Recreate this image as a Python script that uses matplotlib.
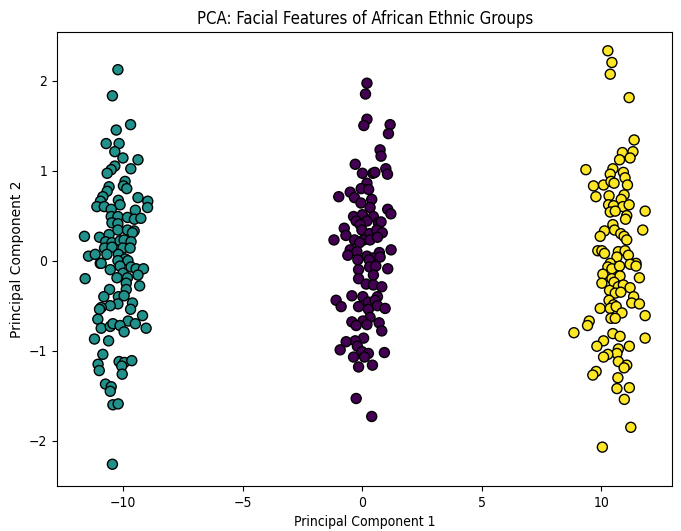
import numpy as np
import matplotlib
matplotlib.use("Agg")
import matplotlib.pyplot as plt

# Grupo 1 (teal, alrededor de x=-10)
g1_x = [-10.22, -10.45, -9.69, -10.29, -10.71, -10.17, -10.35, -10.01, -9.38, -10.35,
        -10.50, -10.67, -9.68, -9.92, -9.99, -9.85, -10.59, -10.67, -10.85, -10.95,
        -11.10, -10.79, -10.20, -10.13, -9.38, -8.97, -8.98, -10.50, -9.49, -10.50,
        -10.22, -9.82, -9.53, -9.26, -10.47, -10.22, -10.22, -9.82, -9.54, -11.62,
        -10.99, -10.59, -9.61, -10.73, -10.47, -10.13, -9.96, -9.67, -10.78, -10.47,
        -10.01, -9.71, -11.45, -11.17, -10.68, -10.20, -9.92, -10.96, -10.92, -10.22,
        -9.80, -10.54, -10.13, -10.01, -9.67, -9.46, -9.15, -9.38, -11.59, -10.26,
        -9.82, -9.87, -9.31, -10.57, -9.87, -10.81, -10.20, -9.96, -9.61, -10.22,
        -10.54, -10.92, -10.99, -9.69, -11.06, -9.19, -9.79, -9.49, -10.92, -10.54,
        -10.43, -10.13, -9.96, -9.04, -11.20, -10.61, -10.85, -11.05, -11.00, -10.17,
        -9.95, -9.64, -10.06, -10.04, -10.74, -10.50, -10.54, -10.43, -10.21, -10.45]
g1_y = [2.12, 1.83, 1.51, 1.45, 1.30, 1.30, 1.21, 1.14, 1.12, 1.05,
        1.01, 0.97, 1.02, 0.88, 0.83, 0.80, 0.82, 0.77, 0.71, 0.66,
        0.60, 0.60, 0.67, 0.62, 0.70, 0.66, 0.59, 0.57, 0.56, 0.49,
        0.49, 0.48, 0.46, 0.47, 0.42, 0.41, 0.34, 0.34, 0.33, 0.27,
        0.26, 0.29, 0.31, 0.21, 0.20, 0.22, 0.23, 0.21, 0.14, 0.15,
        0.14, 0.14, 0.05, 0.07, 0.07, 0.07, 0.02, -0.03, -0.03, 0.00,
        0.00, -0.10, -0.06, -0.14, -0.07, -0.09, -0.09, -0.16, -0.20, -0.19,
        -0.19, -0.25, -0.28, -0.32, -0.32, -0.40, -0.40, -0.39, -0.47, -0.48,
        -0.50, -0.52, -0.54, -0.54, -0.65, -0.61, -0.67, -0.70, -0.75, -0.73,
        -0.70, -0.72, -0.79, -0.75, -0.87, -0.89, -1.04, -1.15, -1.22, -1.12,
        -1.13, -1.11, -1.17, -1.26, -1.37, -1.40, -1.45, -1.60, -1.59, -2.26]

# Grupo 0 (morado, alrededor de x=0)
g0_x = [0.20, 0.14, 0.20, 0.07, 1.17, 1.10, 0.75, 0.79, -0.29, 0.99,
        1.06, 0.01, 0.45, 0.53, 0.20, -0.04, 0.27, -0.50, -0.98, -0.32,
        0.40, -0.05, 0.33, 1.07, 1.20, -0.36, 0.01, 0.47, -0.25, 0.20,
        0.68, -0.75, -0.08, 0.79, -0.68, -0.01, 0.31, 0.61, 0.84, -1.18,
        -0.32, 0.06, 0.33, 0.64, -0.11, 1.21, -0.50, -0.22, 0.72, -0.60,
        0.20, 0.47, -0.18, 0.29, 0.75, -0.15, 0.31, 0.57, 1.07, -0.15,
        0.47, 0.17, 0.47, 0.82, -0.43, 0.03, 0.64, -1.09, -0.88, -0.15,
        0.26, 0.54, 0.26, 0.64, 0.96, 0.33, 0.03, -0.43, -0.25, 0.20,
        0.71, 0.82, 0.06, -0.29, -0.67, -0.92, -0.20, -0.01, 0.26, 0.93,
        -0.36, 0.10, 0.43, -0.15, -0.25, 0.40]
g0_y = [1.97, 1.85, 1.57, 1.50, 1.51, 1.41, 1.23, 1.16, 1.07, 1.02,
        0.96, 0.97, 0.97, 0.98, 0.86, 0.80, 0.79, 0.76, 0.71, 0.70,
        0.68, 0.64, 0.59, 0.57, 0.52, 0.49, 0.51, 0.49, 0.44, 0.44,
        0.42, 0.36, 0.40, 0.43, 0.28, 0.34, 0.30, 0.34, 0.31, 0.23,
        0.23, 0.23, 0.23, 0.26, 0.20, 0.12, 0.12, 0.10, 0.09, 0.06,
        0.05, 0.03, 0.01, 0.01, 0.04, -0.10, -0.07, -0.06, -0.09, -0.20,
        -0.16, -0.26, -0.27, -0.29, -0.39, -0.40, -0.40, -0.44, -0.51, -0.51,
        -0.46, -0.44, -0.54, -0.50, -0.53, -0.63, -0.67, -0.68, -0.72, -0.71,
        -0.69, -0.78, -0.86, -0.89, -0.90, -0.99, -0.95, -1.01, -1.03, -1.02,
        -1.07, -1.07, -1.16, -1.18, -1.53, -1.73]

# Grupo 2 (amarillo, alrededor de x=10)
g2_x = [10.28, 10.45, 10.38, 11.17, 11.38, 10.89, 11.33, 10.77, 11.21, 9.36,
        10.49, 10.93, 10.38, 11.00, 9.68, 10.10, 10.41, 10.54, 11.10, 9.78,
        10.33, 10.96, 10.84, 10.31, 10.52, 10.91, 11.17, 11.84, 10.38, 10.59,
        11.07, 11.02, 10.49, 10.14, 10.56, 11.74, 9.96, 10.82, 10.96, 11.07,
        9.86, 10.03, 10.14, 10.72, 11.00, 10.66, 11.14, 10.38, 11.46, 10.28,
        10.45, 10.77, 11.21, 11.46, 10.07, 11.60, 10.45, 10.79, 10.03, 10.54,
        10.72, 10.93, 11.21, 10.35, 10.59, 10.82, 11.36, 10.33, 11.28, 11.60,
        10.52, 9.96, 10.38, 10.63, 10.87, 11.84, 10.41, 10.59, 9.50, 9.43,
        8.86, 10.49, 10.79, 11.84, 10.10, 9.82, 11.18, 10.72, 10.66, 10.28,
        10.10, 10.72, 11.07, 10.96, 9.79, 9.65, 10.70, 10.66, 11.18, 10.97,
        11.24, 10.05]
g2_y = [2.33, 2.20, 2.07, 1.81, 1.34, 1.20, 1.21, 1.12, 1.14, 1.01,
        1.02, 0.98, 0.96, 0.92, 0.83, 0.84, 0.88, 0.86, 0.84, 0.71,
        0.72, 0.73, 0.68, 0.62, 0.61, 0.60, 0.62, 0.55, 0.54, 0.55,
        0.50, 0.46, 0.40, 0.33, 0.34, 0.34, 0.27, 0.30, 0.27, 0.23,
        0.11, 0.11, 0.08, 0.10, 0.11, 0.04, 0.06, -0.03, -0.03, -0.07,
        -0.09, -0.06, -0.04, -0.06, -0.15, -0.19, -0.20, -0.17, -0.25, -0.24,
        -0.29, -0.27, -0.30, -0.33, -0.36, -0.35, -0.40, -0.44, -0.47, -0.48,
        -0.49, -0.53, -0.53, -0.51, -0.58, -0.61, -0.64, -0.64, -0.67, -0.72,
        -0.80, -0.81, -0.84, -0.86, -0.89, -0.95, -0.95, -0.98, -1.03, -1.04,
        -1.07, -1.12, -1.16, -1.19, -1.23, -1.27, -1.30, -1.42, -1.41, -1.54,
        -1.85, -2.07]

plt.rcParams['font.stretch'] = 'condensed'

x = np.array(g0_x + g1_x + g2_x)
y = np.array(g0_y + g1_y + g2_y)
labels = np.array([0] * len(g0_x) + [1] * len(g1_x) + [2] * len(g2_x))

fig = plt.figure(figsize=(6.81, 5.31), dpi=100)
ax = fig.add_subplot(111)
fig.subplots_adjust(left=0.084, right=0.987, top=0.940, bottom=0.085)

ax.scatter(x, y, c=labels, cmap='viridis', edgecolor='k', s=52)
ax.set_title('PCA: Facial Features of African Ethnic Groups')
ax.set_xlabel('Principal Component 1')
ax.set_ylabel('Principal Component 2', fontstretch='normal')
ax.set_xlim(-12.76, 12.97)
ax.set_ylim(-2.5, 2.54)

fig.savefig('out.png', dpi=100)
